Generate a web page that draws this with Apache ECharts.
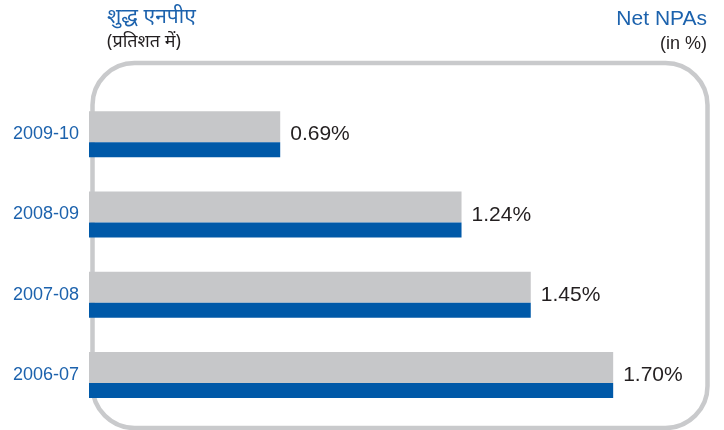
<!DOCTYPE html>
<html>
<head>
<meta charset="utf-8">
<script src="https://cdn.jsdelivr.net/npm/echarts@6/dist/echarts.min.js"></script>
<style>
html,body{margin:0;padding:0;background:#fff;}
#chart{width:724px;height:430px;}
</style>
</head>
<body>
<div id="chart"></div>
<script>
// Data (top to bottom as shown)
const categories = ['2009-10', '2008-09', '2007-08', '2006-07'];
const netNPA = [0.69, 1.24, 1.45, 1.70];
const titleHindi = 'शुद्ध एनपीए';
const subtitleHindi = '(प्रतिशत में)';
const titleEnglish = 'Net NPAs';
const subtitleEnglish = '(in %)';

const BLUE = '#0059a8';
const GREY = '#c6c7c9';
const TEXT_BLUE = '#1c62ad';
const DARK = '#231f20';
const FONT = '"Liberation Sans", Arial, Helvetica, sans-serif';

const chart = echarts.init(document.getElementById('chart'), null, {renderer: 'canvas'});
chart.setOption({
  animation: false,
  backgroundColor: '#fff',
  grid: {left: 89, top: 94, width: 600, height: 321, containLabel: false},
  xAxis: {
    type: 'value', min: 0.11, max: 1.93, show: false
  },
  yAxis: {
    type: 'category', inverse: true, data: categories,
    axisLine: {show: false}, axisTick: {show: false},
    axisLabel: {color: TEXT_BLUE, fontSize: 18, fontFamily: FONT, margin: 10, padding: [8, 0, 0, 0]}
  },
  graphic: [
    {type: 'rect', z: -10, silent: true,
     shape: {x: 92.5, y: 63, width: 615, height: 365, r: 42},
     style: {fill: 'none', stroke: '#c9cacc', lineWidth: 4.5}},
    {type: 'text', left: 107, top: 7,
     style: {text: titleHindi, fontSize: 21, fill: TEXT_BLUE, fontFamily: '"Noto Sans", sans-serif'}},
    {type: 'text', left: 107, top: 33,
     style: {text: subtitleHindi, fontSize: 18, fill: DARK, fontFamily: '"Noto Sans", sans-serif'}},
    {type: 'text', right: 17, top: 9,
     style: {text: titleEnglish, fontSize: 21, fill: TEXT_BLUE, fontFamily: FONT}},
    {type: 'text', right: 17, top: 35,
     style: {text: subtitleEnglish, fontSize: 18, fill: DARK, fontFamily: FONT}}
  ],
  series: [
    {
      type: 'bar', name: 'grey', data: netNPA, barWidth: 31, barGap: '0%', clip: true,
      itemStyle: {color: GREY},
      label: {
        show: true, position: 'right', distance: 10, offset: [0, 8],
        formatter: p => p.value.toFixed(2) + '%',
        fontSize: 21, color: DARK, fontFamily: FONT
      }
    },
    {
      type: 'bar', name: 'blue', data: netNPA, barWidth: 15, barGap: '0%', clip: true,
      itemStyle: {color: BLUE}
    }
  ]
});
</script>
</body>
</html>
